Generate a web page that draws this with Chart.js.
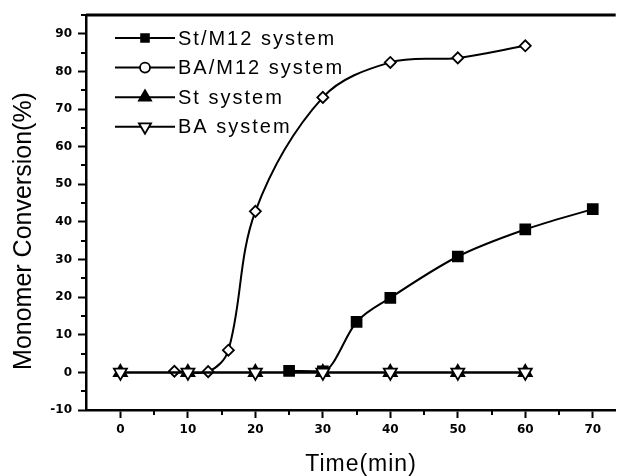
<!DOCTYPE html>
<html>
<head>
<meta charset="utf-8">
<script src="https://cdn.jsdelivr.net/npm/chart.js@4.4.1/dist/chart.umd.min.js"></script>
<style>
  html, body { margin: 0; padding: 0; background: #fff; overflow: hidden; }
  #wrap { width: 625px; height: 476px; position: relative; }
</style>
</head>
<body>
<div id="wrap"><canvas id="conv-chart" width="625" height="476"></canvas></div>
<script>
// Conversion en monomère en fonction du temps
const xTicks = [0, 10, 20, 30, 40, 50, 60, 70];
const yTicks = [-10, 0, 10, 20, 30, 40, 50, 60, 70, 80, 90];
const xTitle = "Time(min)";
const yTitle = "Monomer Conversion(%)";

const stM12Time = [25, 30, 35, 40, 50, 60, 70];
const stM12Conv = [0.4, 0.3, 13.4, 19.8, 30.8, 38.0, 43.4];

const baM12Time = [8, 13, 16, 20, 30, 40, 50, 60];
const baM12Conv = [0.3, 0.2, 5.9, 42.8, 73.1, 82.4, 83.6, 86.8];

const stTime = [0, 10, 20, 30, 40, 50, 60];
const stConv = [0, 0, 0, 0, 0, 0, 0];

const baTime = [0, 10, 20, 30, 40, 50, 60];
const baConv = [0, 0, 0, 0, 0, 0, 0];

const toPoints = (xs, ys) => xs.map((x, i) => ({ x: x, y: ys[i] }));

const TICK_FONT = "'DejaVu Sans', sans-serif";
const TEXT_FONT = "'Liberation Sans', Arial, sans-serif";

// petites graduations (tous les 5), cadre du haut et titres d'axes
const axisExtras = {
  id: "axisExtras",
  afterDraw(chart) {
    const ctx = chart.ctx;
    const xs = chart.scales.x;
    const ys = chart.scales.y;
    const area = chart.chartArea;
    ctx.save();
    ctx.strokeStyle = "#000";
    ctx.lineWidth = 2;
    ctx.beginPath();
    for (let v = 5; v < xs.max; v += 10) {
      const px = Math.round(xs.getPixelForValue(v));
      ctx.moveTo(px, area.bottom);
      ctx.lineTo(px, area.bottom + 5);
    }
    for (let v = -5; v <= ys.max; v += 10) {
      const py = Math.round(ys.getPixelForValue(v));
      ctx.moveTo(area.left, py);
      ctx.lineTo(area.left - 5, py);
    }
    ctx.stroke();

    ctx.lineWidth = 3;
    ctx.beginPath();
    ctx.moveTo(area.left, area.top);
    ctx.lineTo(area.right, area.top);
    ctx.stroke();

    ctx.fillStyle = "#000";
    ctx.font = "23px " + TEXT_FONT;
    ctx.letterSpacing = "1px";
    ctx.textAlign = "center";
    ctx.textBaseline = "middle";
    ctx.fillText(xTitle, 361, 465);

    ctx.font = "25px " + TEXT_FONT;
    ctx.letterSpacing = "0px";
    ctx.translate(24, 231);
    ctx.rotate(-Math.PI / 2);
    ctx.fillText(yTitle, 0, 0);
    ctx.restore();
  },
};

// légende : trait + symbole, dans le coin haut gauche
const lineLegend = {
  id: "lineLegend",
  afterDraw(chart) {
    const ctx = chart.ctx;
    const area = chart.chartArea;
    const x0 = area.left + 29;
    const x1 = area.left + 89;
    const y0 = area.top + 23;
    const rowH = 29.6;
    const styles = ["rect", "circle", "triangle", "triangle"];
    const radii = [5.5, 5, 7, 7];
    ctx.save();
    chart.data.datasets.forEach((ds, i) => {
      const y = y0 + i * rowH;
      ctx.strokeStyle = "#000";
      ctx.lineWidth = 2;
      ctx.beginPath();
      ctx.moveTo(x0, y);
      ctx.lineTo(x1, y);
      ctx.stroke();
      ctx.fillStyle = ds.pointBackgroundColor;
      ctx.lineWidth = 1.8;
      Chart.helpers.drawPoint(ctx, {
        pointStyle: styles[i],
        rotation: ds.pointRotation || 0,
        radius: radii[i],
        borderWidth: 1.8,
      }, (x0 + x1) / 2, y);
      ctx.fillStyle = "#000";
      ctx.font = "20px " + TEXT_FONT;
      ctx.letterSpacing = "2px";
      ctx.textBaseline = "middle";
      ctx.textAlign = "left";
      ctx.fillText(ds.label, x1 + 3, y + 1);
    });
    ctx.restore();
  },
};

const common = {
  borderColor: "#000",
  borderWidth: 2,
  pointBorderColor: "#000",
  pointBorderWidth: 1.8,
  fill: false,
};

new Chart(document.getElementById("conv-chart"), {
  type: "line",
  data: {
    datasets: [
      {
        ...common,
        label: "St/M12 system",
        data: toPoints(stM12Time, stM12Conv),
        pointStyle: "rect",
        pointRadius: 7,
        pointBackgroundColor: "#000",
        cubicInterpolationMode: "monotone",
        order: 3,
      },
      {
        ...common,
        label: "BA/M12 system",
        data: toPoints(baM12Time, baM12Conv),
        pointStyle: "rectRot",
        pointRadius: 5.5,
        pointBackgroundColor: "#fff",
        tension: 0.35,
        order: 2,
      },
      {
        ...common,
        label: "St system",
        data: toPoints(stTime, stConv),
        pointStyle: "triangle",
        pointRadius: 7.5,
        pointBackgroundColor: "#000",
        order: 1,
      },
      {
        ...common,
        label: "BA system",
        data: toPoints(baTime, baConv),
        pointStyle: "triangle",
        pointRotation: 180,
        pointRadius: 7.5,
        pointBackgroundColor: "#fff",
        order: 0,
      },
    ],
  },
  options: {
    responsive: false,
    animation: false,
    layout: { padding: { top: 15, right: 0, left: 0, bottom: 0 } },
    plugins: {
      legend: { display: false },
      tooltip: { enabled: false },
    },
    scales: {
      x: {
        type: "linear",
        min: -5.1,
        max: 73.4,
        afterBuildTicks: (axis) => {
          axis.ticks = xTicks.map((v) => ({ value: v }));
        },
        afterFit: (axis) => {
          axis.height = 66;
        },
        grid: {
          drawOnChartArea: false,
          tickLength: 8,
          tickWidth: 2,
          tickColor: "#000",
        },
        border: { display: true, color: "#000", width: 2.5 },
        ticks: {
          color: "#000",
          font: { family: TICK_FONT, size: 12, weight: "bold" },
          padding: 5,
          maxRotation: 0,
        },
      },
      y: {
        type: "linear",
        min: -10,
        max: 95,
        afterBuildTicks: (axis) => {
          axis.ticks = yTicks.map((v) => ({ value: v }));
        },
        afterFit: (axis) => {
          axis.width = 86;
        },
        grid: {
          drawOnChartArea: false,
          tickLength: 8,
          tickWidth: 2,
          tickColor: "#000",
        },
        border: { display: true, color: "#000", width: 2.5 },
        ticks: {
          color: "#000",
          font: { family: TICK_FONT, size: 12, weight: "bold" },
          padding: 6,
        },
      },
    },
  },
  plugins: [axisExtras, lineLegend],
});
</script>
</body>
</html>
